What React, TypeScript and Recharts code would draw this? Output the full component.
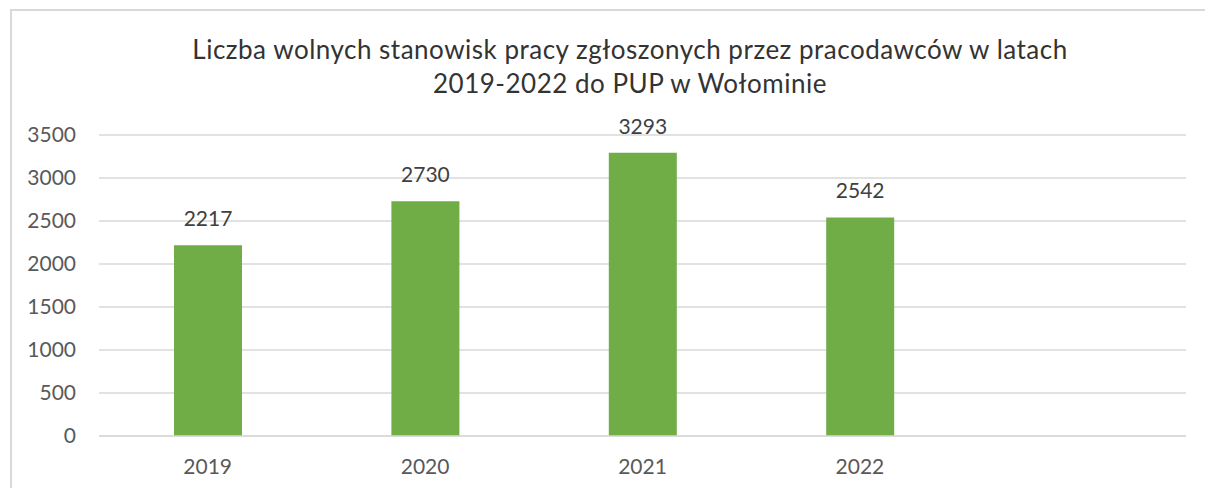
import React from 'react';
import { BarChart, Bar, XAxis, YAxis, CartesianGrid, LabelList } from 'recharts';

// values
const years = ['2019', '2020', '2021', '2022', ''];
const vacancies = [2217, 2730, 3293, 2542, null];
const yTicks = [0, 500, 1000, 1500, 2000, 2500, 3000, 3500];
const titleLines = [
  'Liczba wolnych stanowisk pracy zgłoszonych przez pracodawców w latach',
  '2019-2022 do PUP w Wołominie',
];

const data = years.map((year, i) => ({ year, value: vacancies[i] }));

const FONT = 'Lato, "Open Sans", sans-serif';

const App: React.FC = () => {
  return (
    <div style={{ position: 'absolute', left: 0, top: 0, width: 1205, height: 488, background: '#fff', overflow: 'hidden' }}>
      {/* chart frame, cropped on the right and bottom */}
      <div
        style={{
          position: 'absolute',
          left: 10,
          top: 9,
          width: 1300,
          height: 600,
          borderLeft: '2px solid #d9d9d9',
          borderTop: '2px solid #d9d9d9',
        }}
      />

      <svg width={1205} height={120} style={{ position: 'absolute', left: 0, top: 0 }}>
        {titleLines.map((line, i) => (
          <text
            key={i}
            x={630}
            y={59 + i * 34}
            textAnchor="middle"
            fontFamily={FONT}
            fontSize={26}
            letterSpacing={0.5}
            fill="#333333"
          >
            {line}
          </text>
        ))}
      </svg>

      <div style={{ position: 'absolute', left: 0, top: 0 }}>
        <BarChart width={1205} height={488} data={data} margin={{ top: 135, right: 19, bottom: 22, left: 0 }}>
          <CartesianGrid vertical={false} stroke="#d9d9d9" strokeWidth={1.4} />
          <XAxis
            dataKey="year"
            height={30}
            tickLine={false}
            tickSize={0}
            tickMargin={23}
            axisLine={{ stroke: '#d9d9d9', strokeWidth: 1.4 }}
            tick={{ fill: '#595959', fontSize: 21, fontFamily: FONT }}
          />
          <YAxis
            width={99}
            domain={[0, 3500]}
            ticks={yTicks}
            axisLine={false}
            tickLine={false}
            tickSize={0}
            tickMargin={23}
            tick={{ fill: '#595959', fontSize: 21, fontFamily: FONT }}
          />
          <Bar dataKey="value" fill="#70ad47" barSize={68} isAnimationActive={false}>
            <LabelList dataKey="value" position="top" offset={19} fill="#404040" fontSize={21} fontFamily={FONT} />
          </Bar>
        </BarChart>
      </div>
    </div>
  );
};

export default App;
